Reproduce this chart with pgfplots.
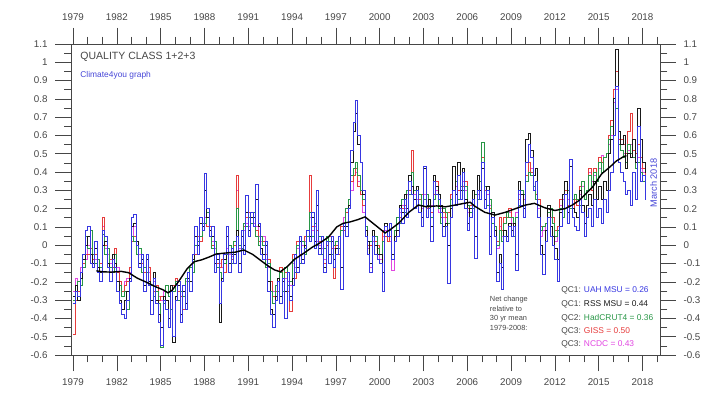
\documentclass[border=0pt]{standalone}
\usepackage{pgfplots}
\pgfplotsset{compat=1.18}
\usepackage{pgfplotstable}
\usepackage{fontspec}
\setmainfont{Liberation Sans}
\definecolor{cuah}{RGB}{55,55,225}
\definecolor{crss}{RGB}{25,25,25}
\definecolor{chad}{RGB}{40,150,70}
\definecolor{cgiss}{RGB}{230,60,60}
\definecolor{cncdc}{RGB}{225,70,225}
\definecolor{ctxt}{RGB}{70,70,70}
\definecolor{cblue}{RGB}{70,70,215}

\pgfplotstableread{
x u r h g n
1979.00 -0.32 -0.28 -0.30 -0.49 -0.25
1979.17 -0.25 -0.22 -0.25 -0.30 -0.18
1979.33 -0.28 -0.30 -0.20 -0.25 -0.20
1979.50 -0.15 -0.18 -0.22 -0.15 -0.12
1979.67 -0.05 -0.08 -0.12 -0.10 -0.10
1979.83 0.08 0.00 0.05 -0.05 -0.08
1980.00 0.10 0.05 -0.02 -0.05 0.00
1980.17 -0.10 -0.05 0.08 -0.02 -0.05
1980.33 -0.12 -0.10 -0.05 -0.08 -0.05
1980.50 0.02 -0.02 -0.10 -0.05 -0.08
1980.67 -0.15 -0.12 -0.08 -0.12 -0.08
1980.83 -0.20 -0.15 -0.12 -0.10 -0.10
1981.00 0.08 0.00 0.06 0.15 0.10
1981.17 0.05 0.02 -0.05 0.00 -0.02
1981.33 -0.12 -0.10 -0.02 -0.10 -0.05
1981.50 -0.20 -0.15 -0.12 -0.08 -0.10
1981.67 -0.08 -0.05 -0.15 -0.12 -0.08
1981.83 -0.12 -0.10 -0.05 -0.02 -0.05
1982.00 -0.25 -0.20 -0.20 -0.15 -0.12
1982.17 -0.32 -0.30 -0.22 -0.20 -0.22
1982.33 -0.38 -0.35 -0.28 -0.25 -0.25
1982.50 -0.40 -0.30 -0.25 -0.22 -0.20
1982.67 -0.30 -0.25 -0.35 -0.20 -0.18
1982.83 -0.20 -0.18 -0.20 -0.12 -0.15
1983.00 0.15 0.10 0.05 0.02 0.05
1983.17 0.17 0.12 0.02 0.05 0.10
1983.33 0.00 0.02 -0.05 -0.05 0.00
1983.50 -0.12 -0.10 -0.02 -0.02 -0.05
1983.67 -0.05 -0.08 -0.15 -0.10 -0.10
1983.83 -0.25 -0.22 -0.12 -0.15 -0.12
1984.00 -0.05 -0.08 -0.15 -0.15 -0.08
1984.17 -0.22 -0.20 -0.20 -0.12 -0.15
1984.33 -0.38 -0.30 -0.22 -0.22 -0.22
1984.50 -0.18 -0.15 -0.28 -0.25 -0.20
1984.67 -0.32 -0.30 -0.25 -0.22 -0.25
1984.83 -0.42 -0.38 -0.32 -0.30 -0.28
1985.00 -0.55 -0.45 -0.56 -0.28 -0.30
1985.17 -0.30 -0.28 -0.32 -0.32 -0.25
1985.33 -0.35 -0.30 -0.22 -0.22 -0.22
1985.50 -0.45 -0.40 -0.28 -0.25 -0.28
1985.67 -0.25 -0.22 -0.35 -0.22 -0.25
1985.83 -0.50 -0.53 -0.25 -0.22 -0.25
1986.00 -0.30 -0.28 -0.20 -0.18 -0.20
1986.17 -0.20 -0.22 -0.30 -0.25 -0.22
1986.33 -0.42 -0.38 -0.25 -0.28 -0.25
1986.50 -0.22 -0.25 -0.28 -0.35 -0.22
1986.67 -0.35 -0.32 -0.18 -0.18 -0.20
1986.83 -0.15 -0.18 -0.20 -0.15 -0.15
1987.00 -0.25 -0.20 -0.12 -0.12 -0.12
1987.17 -0.05 -0.08 -0.15 -0.08 -0.10
1987.33 0.10 0.05 0.00 -0.05 0.00
1987.50 -0.05 0.00 0.02 0.05 0.05
1987.67 0.15 0.12 0.05 0.02 0.05
1987.83 0.08 0.10 0.12 0.08 0.10
1988.00 0.39 0.30 0.12 0.12 0.15
1988.17 0.20 0.15 0.18 0.10 0.10
1988.33 0.05 0.08 0.08 0.10 0.05
1988.50 0.10 0.05 -0.02 0.00 0.02
1988.67 -0.15 -0.10 0.02 0.02 -0.02
1988.83 -0.05 -0.08 -0.12 -0.10 -0.08
1989.00 -0.32 -0.42 -0.15 -0.12 -0.10
1989.17 -0.20 -0.18 -0.20 -0.08 -0.12
1989.33 -0.05 -0.08 -0.10 -0.15 -0.08
1989.50 0.10 0.05 -0.05 -0.05 -0.02
1989.67 -0.15 -0.10 0.00 0.00 -0.05
1989.83 -0.02 -0.05 -0.10 -0.08 -0.06
1990.00 -0.10 -0.05 0.02 0.00 0.00
1990.17 0.05 0.08 0.20 0.38 0.30
1990.33 -0.15 -0.10 0.00 0.00 -0.02
1990.50 0.08 0.05 -0.02 0.05 0.05
1990.67 -0.05 0.00 0.12 0.10 0.08
1990.83 0.27 0.18 0.10 0.15 0.12
1991.00 0.05 0.08 0.15 0.18 0.10
1991.17 0.18 0.15 0.12 0.12 0.15
1991.33 0.10 0.15 0.18 0.10 0.12
1991.50 0.33 0.25 0.05 0.08 0.10
1991.67 0.12 0.10 0.00 0.02 0.05
1991.83 -0.05 -0.02 0.05 0.05 0.02
1992.00 -0.08 -0.05 0.00 0.02 0.05
1992.17 0.02 0.00 -0.12 -0.05 -0.08
1992.33 -0.25 -0.20 -0.10 -0.08 -0.12
1992.50 -0.38 -0.35 -0.25 -0.20 -0.20
1992.67 -0.45 -0.38 -0.32 -0.28 -0.25
1992.83 -0.30 -0.28 -0.22 -0.25 -0.25
1993.00 -0.20 -0.18 -0.25 -0.20 -0.18
1993.17 -0.32 -0.28 -0.15 -0.12 -0.15
1993.33 -0.18 -0.20 -0.25 -0.20 -0.25
1993.50 -0.40 -0.25 -0.12 -0.15 -0.18
1993.67 -0.15 -0.15 -0.22 -0.25 -0.20
1993.83 -0.30 -0.28 -0.20 -0.36 -0.22
1994.00 -0.22 -0.18 -0.08 -0.05 -0.10
1994.17 -0.05 -0.05 -0.15 -0.18 -0.12
1994.33 -0.15 -0.12 0.00 0.02 -0.02
1994.50 0.05 0.02 -0.10 -0.05 -0.05
1994.67 -0.10 -0.08 0.02 0.02 0.00
1994.83 -0.02 0.00 -0.05 0.05 0.02
1995.00 0.08 0.08 0.05 0.05 0.08
1995.17 0.02 0.05 0.18 0.38 0.15
1995.33 0.18 0.15 0.05 0.10 0.08
1995.50 -0.02 0.02 0.12 0.12 0.10
1995.67 0.30 0.22 0.00 0.08 0.02
1995.83 -0.05 -0.02 0.05 0.02 0.00
1996.00 0.05 0.02 -0.05 -0.05 -0.02
1996.17 -0.15 -0.12 -0.02 -0.10 -0.08
1996.33 0.02 0.02 0.05 0.00 0.02
1996.50 -0.10 -0.05 0.02 0.05 0.05
1996.67 0.05 0.02 -0.05 -0.02 -0.02
1996.83 -0.12 -0.08 0.00 -0.18 -0.02
1997.00 -0.05 -0.02 0.02 0.00 0.02
1997.17 0.05 0.05 -0.02 -0.05 0.05
1997.33 -0.24 -0.12 0.08 0.10 0.08
1997.50 0.12 0.10 0.12 0.08 0.15
1997.67 0.05 0.10 0.20 0.18 0.20
1997.83 0.20 0.22 0.25 0.20 0.25
1998.00 0.52 0.45 0.38 0.35 0.30
1998.17 0.67 0.62 0.42 0.38 0.38
1998.33 0.79 0.72 0.45 0.42 0.40
1998.50 0.60 0.55 0.38 0.32 0.35
1998.67 0.45 0.45 0.30 0.28 0.28
1998.83 0.30 0.28 0.25 0.22 0.18
1999.00 0.05 0.08 0.10 0.08 0.05
1999.17 -0.05 0.02 0.02 0.00 -0.02
1999.33 -0.15 -0.10 0.02 0.00 -0.12
1999.50 0.05 0.08 0.05 0.05 0.02
1999.67 -0.05 0.00 0.05 0.02 -0.05
1999.83 -0.08 -0.05 -0.02 0.00 -0.05
2000.00 -0.10 -0.05 -0.05 -0.05 -0.08
2000.17 -0.25 -0.15 0.02 0.08 0.05
2000.33 0.10 0.12 0.12 0.05 0.08
2000.50 0.05 0.05 0.05 0.02 0.05
2000.67 0.12 0.12 0.08 0.05 0.02
2000.83 -0.08 -0.05 -0.05 -0.08 -0.14
2001.00 0.02 0.05 0.08 0.08 0.05
2001.17 0.05 0.08 0.15 0.12 0.12
2001.33 0.20 0.22 0.12 0.15 0.18
2001.50 0.12 0.18 0.25 0.20 0.22
2001.67 0.25 0.28 0.18 0.22 0.20
2001.83 0.15 0.20 0.30 0.30 0.28
2002.00 0.35 0.38 0.28 0.30 0.30
2002.17 0.28 0.32 0.40 0.52 0.40
2002.33 0.20 0.25 0.30 0.25 0.28
2002.50 0.30 0.32 0.22 0.22 0.25
2002.67 0.18 0.22 0.28 0.25 0.22
2002.83 0.10 0.15 0.22 0.28 0.20
2003.00 0.43 0.42 0.25 0.25 0.28
2003.17 0.15 0.22 0.28 0.20 0.22
2003.33 0.20 0.25 0.22 0.25 0.20
2003.50 0.02 0.10 0.15 0.18 0.22
2003.67 0.35 0.38 0.25 0.28 0.28
2003.83 0.28 0.32 0.32 0.35 0.30
2004.00 0.25 0.28 0.20 0.22 0.18
2004.17 0.18 0.22 0.12 0.15 0.20
2004.33 0.05 0.10 0.20 0.18 0.15
2004.50 0.10 0.12 0.18 0.15 0.12
2004.67 -0.21 0.00 0.12 0.18 0.18
2004.83 0.15 0.20 0.25 0.28 0.25
2005.00 0.30 0.43 0.22 0.30 0.30
2005.17 0.22 0.28 0.35 0.35 0.32
2005.33 0.38 0.45 0.25 0.30 0.30
2005.50 0.25 0.30 0.32 0.32 0.30
2005.67 0.40 0.42 0.30 0.32 0.35
2005.83 0.20 0.25 0.32 0.35 0.30
2006.00 0.08 0.12 0.22 0.20 0.18
2006.17 0.15 0.20 0.18 0.22 0.20
2006.33 0.25 0.30 0.20 0.20 0.25
2006.50 -0.07 0.05 0.28 0.28 0.28
2006.67 0.30 0.38 0.25 0.25 0.28
2006.83 0.25 0.30 0.35 0.35 0.35
2007.00 0.45 0.42 0.56 0.48 0.42
2007.17 0.20 0.25 0.32 0.30 0.32
2007.33 0.30 0.32 0.22 0.22 0.28
2007.50 -0.05 0.05 0.25 0.20 0.22
2007.67 0.15 0.18 0.12 0.15 0.18
2007.83 0.05 0.08 0.10 0.08 0.10
2008.00 -0.20 -0.15 0.00 0.02 -0.02
2008.17 -0.10 -0.05 0.08 0.15 0.10
2008.33 -0.24 -0.12 0.02 0.08 0.05
2008.50 0.05 0.08 0.12 0.15 0.12
2008.67 0.02 0.05 0.18 0.15 0.15
2008.83 0.10 0.12 0.15 0.20 0.18
2009.00 0.05 0.08 0.15 0.15 0.12
2009.17 0.10 0.12 0.05 0.12 0.10
2009.33 -0.14 -0.05 0.15 0.15 0.18
2009.50 0.30 0.35 0.22 0.25 0.28
2009.67 0.22 0.28 0.30 0.28 0.30
2009.83 0.15 0.20 0.28 0.22 0.25
2010.00 0.45 0.58 0.35 0.38 0.35
2010.17 0.55 0.61 0.40 0.45 0.45
2010.33 0.48 0.52 0.38 0.40 0.42
2010.50 0.30 0.38 0.32 0.30 0.32
2010.67 0.35 0.42 0.25 0.28 0.28
2010.83 0.15 0.22 0.22 0.25 0.20
2011.00 -0.05 0.00 0.08 0.10 0.05
2011.17 -0.16 -0.05 0.10 0.10 0.08
2011.33 0.02 0.08 0.12 0.12 0.12
2011.50 0.15 0.22 0.18 0.22 0.20
2011.67 0.05 0.10 0.20 0.15 0.15
2011.83 0.00 0.05 0.12 0.15 0.12
2012.00 -0.08 -0.02 0.05 0.08 0.02
2012.17 -0.20 -0.08 0.08 0.10 0.08
2012.33 0.10 0.18 0.20 0.25 0.22
2012.50 0.20 0.28 0.15 0.20 0.25
2012.67 0.28 0.35 0.28 0.30 0.30
2012.83 0.12 0.18 0.30 0.22 0.25
2013.00 0.47 0.43 0.20 0.20 0.22
2013.17 0.15 0.20 0.25 0.20 0.20
2013.33 0.10 0.18 0.28 0.25 0.25
2013.50 0.08 0.15 0.25 0.22 0.25
2013.67 0.25 0.30 0.22 0.32 0.28
2013.83 0.18 0.22 0.35 0.35 0.32
2014.00 0.05 0.12 0.25 0.25 0.25
2014.17 0.15 0.22 0.30 0.30 0.30
2014.33 0.20 0.28 0.38 0.42 0.40
2014.50 0.10 0.22 0.32 0.30 0.35
2014.67 0.25 0.35 0.40 0.42 0.38
2014.83 0.15 0.25 0.35 0.35 0.35
2015.00 0.20 0.32 0.45 0.48 0.42
2015.17 0.12 0.25 0.40 0.45 0.49
2015.33 0.25 0.35 0.48 0.48 0.48
2015.50 0.18 0.30 0.50 0.50 0.50
2015.67 0.30 0.50 0.58 0.60 0.55
2015.83 0.40 0.58 0.65 0.68 0.60
2016.00 0.60 0.80 0.80 0.85 0.78
2016.17 0.87 1.07 0.75 0.95 0.85
2016.33 0.45 0.62 0.55 0.58 0.55
2016.50 0.40 0.55 0.52 0.58 0.52
2016.67 0.35 0.60 0.48 0.55 0.50
2016.83 0.28 0.42 0.45 0.50 0.45
2017.00 0.30 0.50 0.55 0.62 0.52
2017.17 0.22 0.48 0.50 0.72 0.55
2017.33 0.40 0.58 0.48 0.52 0.48
2017.50 0.25 0.45 0.42 0.50 0.45
2017.67 0.65 0.75 0.45 0.55 0.48
2017.83 0.35 0.58 0.40 0.48 0.42
2018.00 0.38 0.45 0.35 0.42 0.40
2018.17 0.25 0.40 0.30 0.38 0.36
2018.25 0.25 0.40 0.30 0.38 0.36
}\datatable

\pgfplotstableread{
x m
1980.6 -0.140
1981.0 -0.145
1981.6 -0.147
1982.3 -0.143
1982.8 -0.150
1983.4 -0.180
1984.1 -0.205
1984.6 -0.225
1985.2 -0.245
1985.5 -0.260
1985.8 -0.245
1986.3 -0.190
1986.8 -0.130
1987.3 -0.090
1987.8 -0.080
1988.3 -0.065
1988.8 -0.048
1989.5 -0.042
1990.1 -0.038
1990.7 -0.026
1991.3 -0.050
1991.8 -0.080
1992.3 -0.110
1992.8 -0.135
1993.2 -0.145
1993.7 -0.115
1994.2 -0.075
1994.8 -0.044
1995.4 -0.010
1995.9 0.012
1996.5 0.045
1997.06 0.100
1997.5 0.120
1998.0 0.128
1998.5 0.140
1999.0 0.155
1999.7 0.110
2000.37 0.067
2000.8 0.090
2001.3 0.120
2002.0 0.180
2002.65 0.220
2003.2 0.210
2003.9 0.215
2004.5 0.210
2005.2 0.220
2005.85 0.230
2006.2 0.235
2006.5 0.214
2007.2 0.180
2007.9 0.165
2008.6 0.180
2009.3 0.200
2010.0 0.220
2010.6 0.229
2011.3 0.205
2012.0 0.190
2012.7 0.200
2013.2 0.220
2013.7 0.247
2014.1 0.280
2014.6 0.320
2015.2 0.390
2015.8 0.430
2016.2 0.460
2016.7 0.484
2016.9 0.490
}\meantable

\begin{document}
\begin{tikzpicture}
\path[use as bounding box] (-71pt,-42pt) rectangle (635pt,355pt);
\pgfplotsset{
  common/.style={
    at={(0,0)}, anchor=south west, scale only axis,
    width=589pt, height=311pt,
    xmin=1978.86, xmax=2019.2, ymin=-0.6, ymax=1.1,
    xtick={1979,1982,...,2018}, minor xtick={1979,...,2019},
    ytick={-0.6,-0.5,-0.4,-0.3,-0.2,-0.1,0,0.1,0.2,0.3,0.4,0.5,0.6,0.7,0.8,0.9,1,1.1},
    minor ytick={-0.55,-0.45,-0.35,-0.25,-0.15,-0.05,0.05,0.15,0.25,0.35,0.45,0.55,0.65,0.75,0.85,0.95,1.05},
    tick align=outside,
    major tick length=16pt, minor tick length=7pt,
    every tick/.style={ctxt, line width=0.6pt},
    axis line style={ctxt, line width=0.6pt},
    /pgf/number format/assume math mode=true,
    tick label style={ctxt, font=\fontsize{9.8}{11}\selectfont},
    xticklabel={\pgfmathprintnumber[assume math mode=true,1000 sep={},fixed,precision=0]{\tick}},
    yticklabel={\pgfmathprintnumber[assume math mode=true,fixed,precision=1]{\tick}},
  }
}
\begin{axis}[common, xticklabel pos=lower, yticklabel pos=left,
  xticklabel style={yshift=-4pt}, yticklabel style={xshift=-4pt},
  clip=true]
\addplot[const plot, cncdc, line width=0.9pt] table[x=x,y=n]{\datatable};
\addplot[const plot, cgiss, line width=0.9pt] table[x=x,y=g]{\datatable};
\addplot[const plot, chad, line width=0.9pt] table[x=x,y=h]{\datatable};
\addplot[const plot, crss, line width=0.9pt] table[x=x,y=r]{\datatable};
\addplot[const plot, cuah, line width=0.9pt] table[x=x,y=u]{\datatable};
\addplot[black, line width=1.4pt] table[x=x,y=m]{\meantable};

\node[anchor=west, text=ctxt, font=\fontsize{10.5}{12}\selectfont] at (rel axis cs:0.010,0.958) {QUALITY CLASS 1+2+3};
\node[anchor=west, text=cblue, font=\fontsize{8.4}{10}\selectfont] at (rel axis cs:0.010,0.900) {Climate4you graph};
\node[rotate=90, text=cblue, font=\fontsize{9.2}{10}\selectfont] at (rel axis cs:0.989,0.553) {March 2018};
\node[anchor=north west, align=left, text=ctxt, inner sep=0pt, font=\fontsize{7.4}{9.7}\selectfont] at (rel axis cs:0.711,0.190) {Net change\\relative to\\30 yr mean\\1979-2008:};
\node[anchor=west, inner sep=0pt, font=\fontsize{8.4}{10}\selectfont] at (rel axis cs:0.832,0.207) {\textcolor{ctxt}{QC1:} \textcolor{cuah}{UAH MSU = 0.26}};
\node[anchor=west, inner sep=0pt, font=\fontsize{8.4}{10}\selectfont] at (rel axis cs:0.832,0.163) {\textcolor{ctxt}{QC1:} \textcolor{crss}{RSS MSU = 0.44}};
\node[anchor=west, inner sep=0pt, font=\fontsize{8.4}{10}\selectfont] at (rel axis cs:0.832,0.119) {\textcolor{ctxt}{QC2:} \textcolor{chad}{HadCRUT4 = 0.36}};
\node[anchor=west, inner sep=0pt, font=\fontsize{8.4}{10}\selectfont] at (rel axis cs:0.832,0.077) {\textcolor{ctxt}{QC3:} \textcolor{cgiss}{GISS = 0.50}};
\node[anchor=west, inner sep=0pt, font=\fontsize{8.4}{10}\selectfont] at (rel axis cs:0.832,0.034) {\textcolor{ctxt}{QC3:} \textcolor{cncdc}{NCDC = 0.43}};
\node[rotate=90, text=ctxt, font=\fontsize{12}{14}\selectfont] at (rel axis cs:-0.0985,0.502) {Temperature anomaly (deg.C)};
\end{axis}
\begin{axis}[common, xticklabel pos=upper, yticklabel pos=right,
  xticklabel style={yshift=4pt}, yticklabel style={xshift=4pt}]
\end{axis}
\end{tikzpicture}
\end{document}
